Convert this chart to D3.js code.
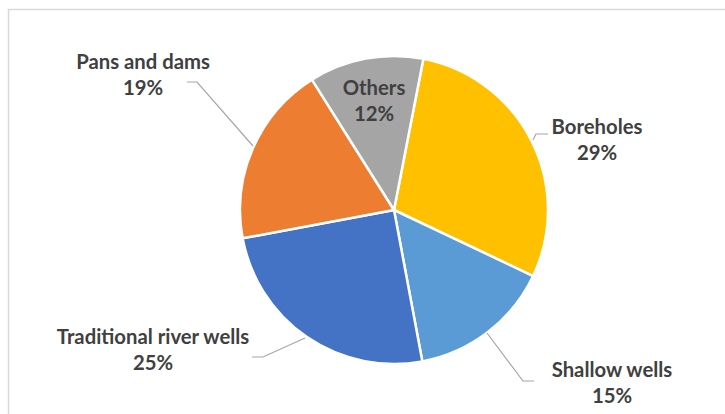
<!DOCTYPE html>
<html>
<head>
<meta charset="utf-8">
<script src="https://cdn.jsdelivr.net/npm/d3@7"></script>
<style>
  body { margin: 0; background: #fff; }
  .label { font-family: Lato, 'Open Sans', sans-serif; font-weight: bold; font-size: 20.3px; fill: #404040; }
</style>
</head>
<body>
<svg width="725" height="414"></svg>
<script>
const categories = ['Boreholes', 'Shallow wells', 'Traditional river wells', 'Pans and dams', 'Others'];
const values = [29, 15, 25, 19, 12];
const colors = ['#FFC000', '#5B9BD5', '#4472C4', '#ED7D31', '#A5A5A5'];

// label anchor (text centre, first baseline)
const labelPos = [[597, 134], [612, 377], [153, 344], [143, 69], [374, 95]];

const svg = d3.select('svg');
const cx = 394, cy = 210, radius = 154;
const startAngle = 11 * Math.PI / 180;

// chart frame (only top and left edges show)
svg.append('path')
  .attr('d', 'M8.5,725 V9.5 H725')
  .attr('fill', 'none')
  .attr('stroke', '#D9D9D9')
  .attr('stroke-width', 1.5);

const data = categories.map((c, i) => ({ name: c, value: values[i], color: colors[i], pos: labelPos[i] }));

const pie = d3.pie()
  .value(d => d.value)
  .sort(null)
  .startAngle(startAngle)
  .endAngle(startAngle + 2 * Math.PI);

const arc = d3.arc().innerRadius(0).outerRadius(radius);

const g = svg.append('g').attr('transform', `translate(${cx},${cy})`);

const arcs = pie(data);

g.selectAll('path.slice')
  .data(arcs)
  .enter()
  .append('path')
  .attr('class', 'slice')
  .attr('d', arc)
  .attr('fill', d => d.data.color)
  .attr('stroke', '#fff')
  .attr('stroke-width', 2.5)
  .attr('stroke-linejoin', 'round');

// leader lines: from the slice edge to an elbow next to the label
const leaders = [
  { i: 0, pts: [[533, 140], [536, 134], [548, 134]] },
  { i: 1, pts: [[487, 333], [523, 381], [534, 381]] },
  { i: 2, pts: [[305, 338], [263, 357], [252, 357]] },
  { i: 3, pts: [[253, 146], [197, 82], [187, 82]] }
];

svg.selectAll('path.leader')
  .data(leaders)
  .enter()
  .append('path')
  .attr('class', 'leader')
  .attr('d', d => d3.line()(d.pts))
  .attr('fill', 'none')
  .attr('stroke', '#A6A6A6')
  .attr('stroke-width', 1.2);

const labels = svg.selectAll('text.label')
  .data(arcs)
  .enter()
  .append('text')
  .attr('class', 'label')
  .attr('text-anchor', 'middle')
  .attr('x', d => d.data.pos[0])
  .attr('y', d => d.data.pos[1]);

labels.append('tspan')
  .attr('x', d => d.data.pos[0])
  .text(d => d.data.name);

labels.append('tspan')
  .attr('x', d => d.data.pos[0])
  .attr('dy', 26)
  .text(d => d.data.value + '%');
</script>
</body>
</html>
